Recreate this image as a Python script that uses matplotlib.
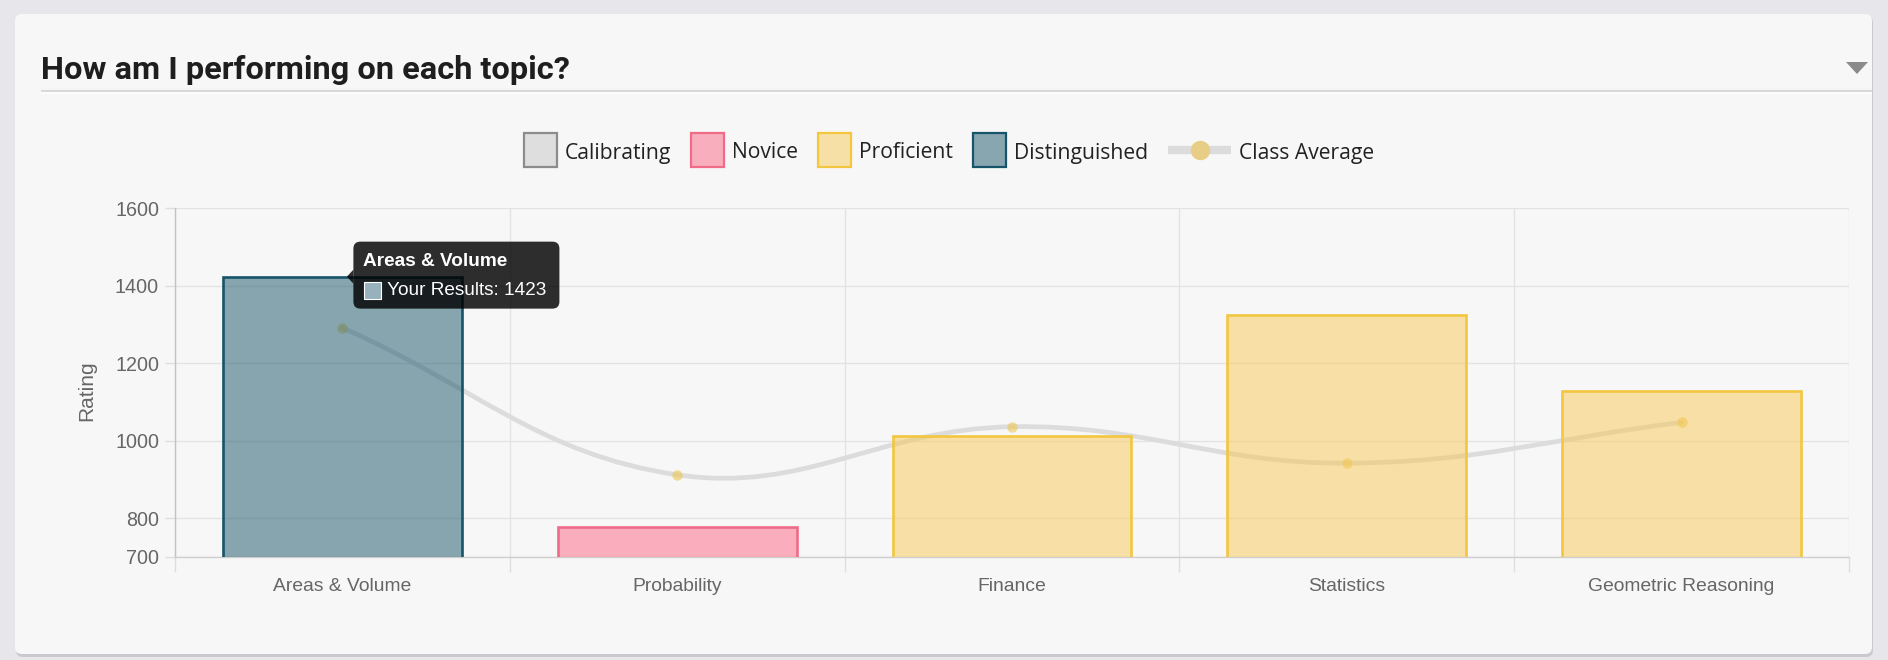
import matplotlib
matplotlib.use("Agg")
import matplotlib.pyplot as plt
import numpy as np
import matplotlib.patches as mpatches
from matplotlib.patches import FancyBboxPatch, Polygon, Rectangle
from matplotlib.path import Path
from matplotlib.colors import to_rgb

# ---------------- data ----------------
categories = ["Areas & Volume", "Probability", "Finance", "Statistics", "Geometric Reasoning"]
your_results = [1423, 777, 1011, 1323, 1127]
levels = ["Distinguished", "Novice", "Proficient", "Proficient", "Proficient"]
class_average = [1291, 912, 1036, 942, 1047]
yticks = [700, 800, 1000, 1200, 1400, 1600]
legend_levels = ["Calibrating", "Novice", "Proficient", "Distinguished"]
line_label = "Class Average"
title = "How am I performing on each topic?"
y_label = "Rating"
tooltip_index = 0
tooltip_series = "Your Results"

# ---------------- styles ----------------
level_colors = {
    "Calibrating": ("#c4c4c4", "#8c8c8c"),
    "Novice": ("#fb6585", "#f06b88"),
    "Proficient": ("#f7c955", "#f3c640"),
    "Distinguished": ("#175469", "#175469"),
}
fill_alpha = 0.5
card_color = "#f7f7f7"
page_color = "#e6e6eb"
W, H = 1888, 660


def blend(c, a, bg=card_color):
    c, b = np.array(to_rgb(c)), np.array(to_rgb(bg))
    return tuple(a * c + (1 - a) * b)


fig = plt.figure(figsize=(W / 100, H / 100), dpi=100, facecolor=page_color)

# background layer in pixel coords
bg = fig.add_axes([0, 0, 1, 1], zorder=0)
bg.set_xlim(0, W)
bg.set_ylim(H, 0)
bg.axis("off")
bg.add_patch(FancyBboxPatch((16, 16), 1857, 641, boxstyle="round,pad=0,rounding_size=7",
                            fc="#c9c9ce", ec="none"))
bg.add_patch(FancyBboxPatch((15, 14), 1857, 640, boxstyle="round,pad=0,rounding_size=7",
                            fc=card_color, ec="none"))
bg.text(41, 79, title, fontsize=23.4, fontweight="bold", family="Roboto", color="#1e1e1e",
        va="baseline", ha="left")
bg.plot([41, 1872], [91, 91], color="#d9d9d9", lw=1.6, solid_capstyle="butt")
bg.plot([41, 1872], [93, 93], color="#ffffff", lw=1.2, solid_capstyle="butt")
bg.add_patch(Polygon([[1846, 62], [1868, 62], [1857, 74]], closed=True, fc="#8a8a8a", ec="none"))
bg.text(87, 391, y_label, rotation=90, fontsize=15, family="Liberation Sans", color="#666666",
        ha="center", va="center")

# ---------------- main chart ----------------
L, R, T, B = 175, 1849, 208, 557
ax = fig.add_axes([L / W, 1 - B / H, (R - L) / W, (B - T) / H], zorder=1)
ax.patch.set_alpha(0)
x = np.arange(len(categories))
ax.set_xlim(-0.5, len(categories) - 0.5)
ax.set_ylim(yticks[0], yticks[-1])
ax.set_axisbelow(True)

bar_w = 0.713
for xi, v, lv in zip(x, your_results, levels):
    base, edge = level_colors[lv]
    ax.bar(xi, v, width=bar_w, color=base, alpha=fill_alpha, linewidth=0, zorder=3)
    ax.bar(xi, v, width=bar_w, fill=False, edgecolor=edge, linewidth=1.9, zorder=3.1)

# class average spline (Chart.js style, tension 0.4, computed in pixel space)
pts = ax.transData.transform(np.column_stack([x, class_average]))
n = len(pts)
tension = 0.4
prev_c, next_c = [], []
for i in range(n):
    pp, p, pn = pts[max(i - 1, 0)], pts[i], pts[min(i + 1, n - 1)]
    d01 = np.hypot(*(p - pp))
    d12 = np.hypot(*(pn - p))
    s = d01 + d12
    s01 = d01 / s if s else 0
    s12 = d12 / s if s else 0
    prev_c.append(p - tension * s01 * (pn - pp))
    next_c.append(p + tension * s12 * (pn - pp))
verts = [pts[0]]
codes = [Path.MOVETO]
for i in range(n - 1):
    verts += [next_c[i], prev_c[i + 1], pts[i + 1]]
    codes += [Path.CURVE4] * 3
verts_data = ax.transData.inverted().transform(np.array(verts))
ax.add_patch(mpatches.PathPatch(Path(verts_data, codes), fill=False, edgecolor="#dcdcdc",
                                lw=3.4, zorder=2, capstyle="round"))
ax.plot(x, class_average, linestyle="none", marker="o", markersize=7.5,
        markerfacecolor=(0.93, 0.78, 0.33, 0.6), markeredgecolor="none", zorder=2.5)

# axes styling
ax.set_yticks(yticks)
ax.set_xticks(x)
ax.set_xticklabels(categories)
ax.set_xticks(np.arange(-0.5, len(categories)), minor=True)
ax.grid(axis="y", which="major", color="#e3e3e3", lw=1.0)
ax.grid(axis="x", which="minor", color="#e3e3e3", lw=1.0)
ax.tick_params(axis="x", which="major", length=0, pad=14.8, labelsize=13.9, labelcolor="#666666")
ax.tick_params(axis="x", which="minor", length=10.5, color="#dedede", width=1.0)
ax.tick_params(axis="y", length=7.5, color="#dedede", width=1.0, pad=4.0, labelsize=14.2,
               labelcolor="#666666")
for lab in ax.get_xticklabels() + ax.get_yticklabels():
    lab.set_family("Liberation Sans")
for s in ["top", "right"]:
    ax.spines[s].set_visible(False)
ax.spines["left"].set_color("#c2c2c2")
ax.spines["bottom"].set_color("#cfcfcf")
ax.spines["left"].set_linewidth(1.0)
ax.spines["bottom"].set_linewidth(1.0)

# ---------------- foreground: legend + tooltip ----------------
fg = fig.add_axes([0, 0, 1, 1], zorder=5)
fg.set_xlim(0, W)
fg.set_ylim(H, 0)
fg.axis("off")
fg.patch.set_alpha(0)
renderer = fig.canvas.get_renderer()

leg_y = 150
text_dy = 3.0
box_w, box_h = 33, 34
gap_text, gap_item = 8, 20
line_w = 63
items = []
for lv in legend_levels:
    t = fg.text(0, leg_y + text_dy, lv, fontsize=15.2, family="Open Sans", color="#222222",
                va="center", ha="left")
    items.append(("box", lv, t))
t = fg.text(0, leg_y + text_dy, line_label, fontsize=15.2, family="Open Sans", color="#222222",
            va="center", ha="left")
items.append(("line", line_label, t))

widths = []
for kind, lab, t in items:
    tw = t.get_window_extent(renderer).width
    sw = box_w if kind == "box" else line_w
    widths.append(sw + gap_text + tw)
total = sum(widths) + gap_item * (len(widths) - 1)
cx = 949
xpos = cx - total / 2
for (kind, lab, t), wdt in zip(items, widths):
    if kind == "box":
        base, edge = level_colors[lab]
        fg.add_patch(Rectangle((xpos, leg_y - box_h / 2), box_w, box_h, fc=blend(base, fill_alpha),
                               ec=edge, lw=1.6))
        t.set_x(xpos + box_w + gap_text)
    else:
        fg.plot([xpos, xpos + line_w], [leg_y, leg_y], color="#dcdcdc", lw=6, solid_capstyle="butt")
        fg.plot([xpos + line_w / 2], [leg_y], marker="o", markersize=14,
                markerfacecolor=blend("#f2c54e", 0.6, "#dadada"), markeredgecolor="none")
        t.set_x(xpos + line_w + gap_text)
    xpos += wdt + gap_item

# tooltip anchored at the hovered bar top
ax_disp = ax.transData.transform((x[tooltip_index], your_results[tooltip_index]))
anc_x, anc_y = ax_disp[0], H - ax_disp[1]
tip_left = anc_x + 11
tip_top = anc_y - 35
tip_w, tip_h = 206, 67
fg.add_patch(FancyBboxPatch((tip_left, tip_top), tip_w, tip_h,
                            boxstyle="round,pad=0,rounding_size=7",
                            fc=(0, 0, 0, 0.82), ec="none"))
fg.add_patch(Polygon([[tip_left, anc_y - 7], [tip_left - 6.5, anc_y], [tip_left, anc_y + 7]],
                     closed=True, fc=(0, 0, 0, 0.82), ec="none"))
fg.text(tip_left + 10, tip_top + 20, categories[tooltip_index], fontsize=13.7, fontweight="bold",
        family="Liberation Sans", color="white", va="center", ha="left")
base, edge = level_colors[levels[tooltip_index]]
fg.add_patch(Rectangle((tip_left + 11, tip_top + 40), 17, 17,
                       fc=blend(base, 0.45, "#ffffff"), ec="white", lw=0.8))
fg.text(tip_left + 34, tip_top + 48.5, f"{tooltip_series}: {your_results[tooltip_index]}",
        fontsize=13.7, family="Liberation Sans", color="white", va="center", ha="left")

fig.savefig("out.png", dpi=100, facecolor=page_color)
